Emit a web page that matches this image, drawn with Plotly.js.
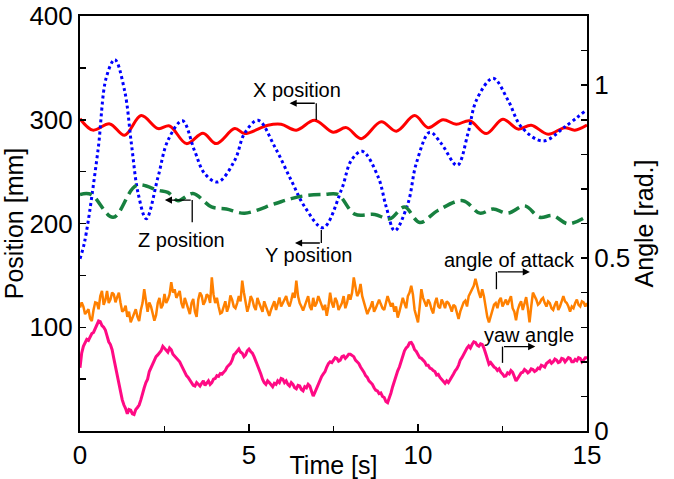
<!DOCTYPE html>
<html>
<head>
<meta charset="utf-8">
<script src="https://cdn.plot.ly/plotly-3.0.1.min.js"></script>
<style>html,body{margin:0;padding:0;background:#fff;}#chart{width:674px;height:479px;}</style>
</head>
<body>
<div id="chart"></div>
<script>
// ---- data ----
// X position [mm]
var tX = [0, 0.38, 0.88, 1.32, 1.81, 2.31, 2.65, 3.15, 3.64, 4.03, 4.58, 4.87, 5.56, 5.95, 6.4, 6.94, 7.49, 7.88, 8.32, 8.91, 9.36, 9.9, 10.3, 10.74, 11.13, 11.53, 12.02, 12.51, 12.96, 13.35, 13.85, 14.34, 14.64, 15];
var xPos = [301, 290, 296, 285, 304, 291.5, 294, 277, 287, 277, 291.5, 286.7, 294.7, 295.6, 290, 299.5, 288, 292.4, 281.8, 298, 289, 304, 292.4, 300, 295.6, 299, 286.7, 300.5, 291, 294.7, 286, 292.4, 290, 295];
// Y position [mm]
var tY = [0, 0.14, 0.53, 0.78, 1.03, 1.32, 1.52, 1.72, 1.96, 2.31, 2.6, 3.03, 3.39, 3.69, 4.08, 4.58, 4.87, 5.27, 5.76, 6.25, 6.65, 7.19, 7.73, 8.03, 8.35, 8.82, 9.06, 9.31, 9.7, 9.95, 10.35, 10.69, 11.16, 11.48, 11.73, 12.22, 12.66, 13.06, 13.7, 14.34, 15];
var yPos = [166, 183, 270, 341, 358, 328, 277, 229, 204.5, 245, 280, 299, 270, 248, 240, 261, 287, 299.5, 274, 241.5, 216, 196, 232, 261, 269.6, 245, 216, 193, 219, 258, 288, 277, 256, 287, 319, 340, 319, 293, 279.5, 293, 310];
// Z position [mm]
var tZ = [0, 0.33, 0.98, 1.67, 2.31, 2.6, 2.9, 3.34, 3.89, 4.33, 4.87, 5.76, 6.25, 6.7, 7.24, 7.63, 8.13, 8.72, 9.16, 9.6, 10.05, 10.59, 11.33, 11.83, 12.22, 12.66, 13.16, 13.6, 13.99, 14.44, 15];
var zPos = [228, 228, 206, 236.7, 232, 230, 222, 229, 216, 214, 210, 219, 224, 227, 228, 228, 209, 208.7, 204.5, 215.8, 201, 212.6, 222, 210, 214, 210, 217, 206, 207.7, 199.7, 207];
// angle of attack [rad.] sampled every 0.05 s
var attack = [
  0.357,0.372,0.36,0.338,0.345,0.352,0.325,0.318,0.35,0.372,0.37,0.352,0.39,0.405,0.365,0.378,0.405,0.37,0.38,0.40,
  0.395,0.372,0.387,0.40,0.37,0.345,0.35,0.362,0.33,0.345,0.314,0.325,0.34,0.352,0.33,0.318,0.35,0.37,0.41,0.37,
  0.345,0.372,0.36,0.34,0.319,0.335,0.37,0.385,0.355,0.365,0.396,0.37,0.38,0.395,0.43,0.40,0.41,0.385,0.395,0.405,
  0.37,0.355,0.385,0.37,0.353,0.338,0.37,0.382,0.345,0.33,0.38,0.40,0.391,0.365,0.375,0.395,0.39,0.37,0.444,0.395,
  0.37,0.385,0.36,0.34,0.343,0.36,0.375,0.345,0.36,0.392,0.38,0.36,0.355,0.37,0.39,0.375,0.435,0.40,0.37,0.345,
  0.362,0.39,0.38,0.36,0.35,0.385,0.37,0.355,0.345,0.375,0.36,0.35,0.333,0.35,0.365,0.375,0.35,0.37,0.386,0.36,
  0.37,0.378,0.39,0.37,0.36,0.378,0.40,0.385,0.435,0.39,0.37,0.36,0.348,0.362,0.375,0.39,0.36,0.35,0.385,0.36,
  0.37,0.39,0.377,0.36,0.35,0.365,0.333,0.36,0.40,0.37,0.357,0.385,0.375,0.35,0.36,0.37,0.39,0.355,0.37,0.395,
  0.38,0.40,0.444,0.41,0.39,0.40,0.425,0.39,0.37,0.355,0.338,0.35,0.36,0.375,0.345,0.355,0.37,0.38,0.367,0.355,
  0.35,0.37,0.39,0.375,0.36,0.37,0.345,0.36,0.328,0.345,0.365,0.385,0.37,0.355,0.39,0.40,0.42,0.395,0.35,0.33,
  0.314,0.36,0.41,0.385,0.37,0.36,0.38,0.37,0.352,0.34,0.37,0.385,0.36,0.355,0.38,0.37,0.355,0.375,0.37,0.36,
  0.345,0.365,0.36,0.34,0.324,0.345,0.36,0.372,0.377,0.36,0.39,0.40,0.41,0.42,0.44,0.415,0.40,0.385,0.41,0.39,
  0.36,0.33,0.314,0.33,0.35,0.365,0.37,0.355,0.377,0.385,0.36,0.37,0.38,0.365,0.38,0.39,0.355,0.345,0.32,0.35,
  0.365,0.375,0.35,0.365,0.387,0.355,0.314,0.36,0.40,0.39,0.38,0.365,0.37,0.38,0.385,0.37,0.36,0.375,0.37,0.355,
  0.35,0.365,0.375,0.35,0.36,0.375,0.39,0.375,0.37,0.36,0.345,0.36,0.355,0.37,0.38,0.365,0.36,0.375,0.372,0.36,
  0.37];
// yaw angle [rad.] sampled every 0.05 s
var yaw = [
  0.183,0.225,0.245,0.258,0.265,0.262,0.27,0.282,0.285,0.296,0.31,0.318,0.316,0.305,0.30,0.292,0.275,0.258,0.25,0.235,
  0.21,0.185,0.17,0.14,0.115,0.09,0.075,0.065,0.05,0.062,0.06,0.05,0.048,0.062,0.068,0.075,0.09,0.11,0.125,0.14,
  0.15,0.172,0.183,0.19,0.20,0.215,0.22,0.228,0.232,0.245,0.24,0.232,0.228,0.24,0.235,0.222,0.217,0.213,0.205,0.2,
  0.19,0.18,0.174,0.16,0.155,0.148,0.14,0.132,0.13,0.14,0.135,0.13,0.138,0.145,0.132,0.14,0.145,0.135,0.14,0.15,
  0.152,0.16,0.158,0.166,0.164,0.17,0.175,0.185,0.19,0.195,0.205,0.22,0.225,0.232,0.237,0.228,0.225,0.215,0.22,0.232,
  0.237,0.23,0.225,0.215,0.203,0.19,0.18,0.165,0.15,0.14,0.135,0.145,0.14,0.132,0.128,0.138,0.135,0.145,0.14,0.152,
  0.15,0.14,0.145,0.135,0.13,0.14,0.135,0.125,0.122,0.132,0.13,0.12,0.116,0.128,0.125,0.135,0.13,0.115,0.101,0.112,
  0.125,0.135,0.145,0.158,0.165,0.172,0.185,0.195,0.20,0.198,0.205,0.212,0.21,0.202,0.205,0.215,0.217,0.21,0.215,0.222,
  0.222,0.218,0.215,0.205,0.20,0.195,0.185,0.178,0.17,0.16,0.155,0.145,0.14,0.135,0.125,0.118,0.116,0.108,0.11,0.1,
  0.097,0.085,0.082,0.095,0.11,0.128,0.145,0.16,0.174,0.185,0.20,0.218,0.232,0.24,0.245,0.255,0.256,0.248,0.235,0.23,
  0.222,0.212,0.21,0.205,0.20,0.19,0.19,0.182,0.18,0.175,0.172,0.162,0.164,0.155,0.15,0.142,0.138,0.145,0.14,0.148,
  0.155,0.165,0.174,0.18,0.19,0.205,0.212,0.222,0.23,0.24,0.246,0.24,0.25,0.258,0.256,0.248,0.245,0.252,0.25,0.24,
  0.225,0.205,0.193,0.198,0.19,0.185,0.182,0.175,0.18,0.17,0.165,0.158,0.159,0.168,0.165,0.175,0.17,0.155,0.145,0.152,
  0.16,0.168,0.17,0.178,0.174,0.168,0.172,0.18,0.178,0.172,0.175,0.182,0.18,0.19,0.188,0.185,0.195,0.2,0.203,0.196,
  0.20,0.208,0.205,0.198,0.20,0.21,0.208,0.2,0.205,0.212,0.21,0.2,0.20,0.207,0.203,0.212,0.21,0.2,0.205,0.212,
  0.212];
var tAngle = attack.map(function (_, i) { return i / 20; });

var xTicks = [0, 5, 10, 15];
var posTicks = [100, 200, 300, 400];
var angTicks = [0, 0.5, 1];

// ---- chart ----
var FONT = 'Liberation Sans, Arial, sans-serif';
var traces = [
  {x: tX, y: xPos, mode: 'lines', line: {color: '#ff0000', width: 3, shape: 'spline', smoothing: 1}, name: 'X position'},
  {x: tY, y: yPos, mode: 'lines', line: {color: '#0000ff', width: 3, dash: 'dot', shape: 'spline', smoothing: 1}, name: 'Y position'},
  {x: tZ, y: zPos, mode: 'lines', line: {color: '#17803f', width: 3.5, dash: '12px,6px', shape: 'spline', smoothing: 1}, name: 'Z position'},
  {x: tAngle, y: attack, yaxis: 'y2', mode: 'lines', line: {color: '#ff8000', width: 2.5}, name: 'angle of attack'},
  {x: tAngle, y: yaw, yaxis: 'y2', mode: 'lines', line: {color: '#ff0a84', width: 3}, name: 'yaw angle'}
];

var shapes = [
  {type: 'line', xref: 'x', yref: 'y', x0: 6.99, y0: 299.8, x1: 6.99, y1: 315.9, line: {color: '#000', width: 1.3}},
  {type: 'line', xref: 'x', yref: 'y', x0: 3.32, y0: 222.6, x1: 3.32, y1: 201.2, line: {color: '#000', width: 1.3}},
  {type: 'line', xref: 'x', yref: 'y', x0: 7.14, y0: 193.7, x1: 7.14, y1: 181.2, line: {color: '#000', width: 1.3}},
  {type: 'line', xref: 'x', yref: 'y2', x0: 12.32, y0: 0.41, x1: 12.32, y1: 0.46, line: {color: '#000', width: 1.3}},
  {type: 'line', xref: 'x', yref: 'y2', x0: 12.5, y0: 0.197, x1: 12.5, y1: 0.244, line: {color: '#000', width: 1.3}}
];

function arrow(xh, xt, y, yref) {
  return {x: xh, y: y, ax: xt, ay: y, xref: 'x', yref: yref, axref: 'x', ayref: yref,
    text: '', showarrow: true, arrowhead: 2, arrowsize: 1.1, arrowwidth: 1.3, arrowcolor: '#000'};
}
function label(txt, x, y, yref) {
  return {x: x, y: y, xref: 'x', yref: yref, text: txt, showarrow: false,
    font: {family: FONT, size: 20, color: '#000'}, xanchor: 'center', yanchor: 'middle'};
}

var annotations = [
  arrow(6.2, 6.99, 315.9, 'y'),
  arrow(2.51, 3.32, 222.6, 'y'),
  arrow(6.36, 7.14, 181.2, 'y'),
  arrow(13.31, 12.32, 0.46, 'y2'),
  arrow(13.47, 12.5, 0.244, 'y2'),
  label('X position', 6.41, 328.5, 'y'),
  label('Z position', 3.0, 184, 'y'),
  label('Y position', 6.75, 169.6, 'y'),
  label('angle of attack', 12.7, 0.4945, 'y2'),
  label('yaw angle', 13.29, 0.278, 'y2')
];

var layout = {
  width: 674, height: 479,
  margin: {l: 80, r: 87, t: 16, b: 48},
  paper_bgcolor: '#fff', plot_bgcolor: '#fff',
  showlegend: false,
  font: {family: FONT, size: 26, color: '#000'},
  xaxis: {
    range: [0, 15], tickvals: xTicks, ticktext: xTicks.map(String),
    showgrid: false, zeroline: false, showline: true, linecolor: '#000', linewidth: 2, mirror: true,
    ticks: 'inside', ticklen: 7, tickwidth: 1.5, tickcolor: '#000',
    minor: {dtick: 2.5, tick0: 0, ticks: 'inside', ticklen: 5, tickwidth: 1.5, tickcolor: '#000', showgrid: false},
    tickfont: {family: FONT, size: 26, color: '#000'},
    title: {text: 'Time [s]', font: {family: FONT, size: 25, color: '#000'}, standoff: 0}
  },
  yaxis: {
    range: [0, 400], tickvals: posTicks, ticktext: posTicks.map(String),
    showgrid: false, zeroline: false, showline: true, linecolor: '#000', linewidth: 2,
    ticks: 'inside', ticklen: 6, tickwidth: 1.5, tickcolor: '#000',
    minor: {dtick: 50, tick0: 0, ticks: 'inside', ticklen: 6, tickwidth: 1.5, tickcolor: '#000', showgrid: false},
    tickfont: {family: FONT, size: 26, color: '#000'},
    title: {text: 'Position [mm]', font: {family: FONT, size: 25, color: '#000'}, standoff: 0}
  },
  yaxis2: {
    overlaying: 'y', side: 'right', range: [0, 1.2], tickvals: angTicks, ticktext: ['0', '0.5', '1'],
    showgrid: false, zeroline: false, showline: true, linecolor: '#000', linewidth: 2,
    ticks: 'inside', ticklen: 6, tickwidth: 1.5, tickcolor: '#000',
    minor: {dtick: 0.1, tick0: 0, ticks: 'inside', ticklen: 6, tickwidth: 1.5, tickcolor: '#000', showgrid: false},
    tickfont: {family: FONT, size: 26, color: '#000'},
    title: {text: 'Angle [rad.]', font: {family: FONT, size: 25, color: '#000'}, standoff: 4}
  },
  shapes: shapes,
  annotations: annotations
};

Plotly.newPlot('chart', traces, layout, {displayModeBar: false, staticPlot: true});
</script>
</body>
</html>
